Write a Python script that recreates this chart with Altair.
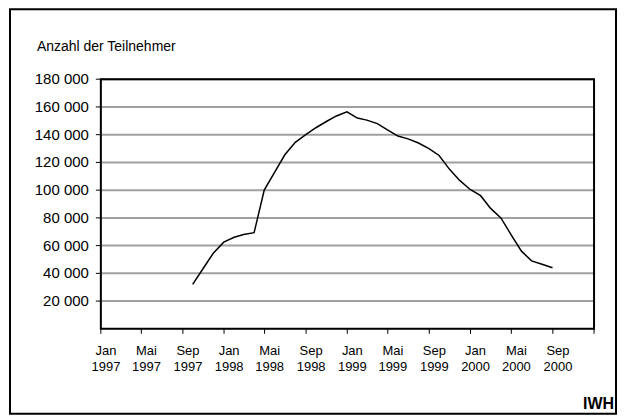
import altair as alt
import pandas as pd

# Monthly participant counts (end of month), Sep 1997 - Aug 2000
dates = pd.date_range("1997-09-30", "2000-08-31", freq="ME").strftime("%Y-%m-%d").tolist()
teilnehmer = [
    32000, 43500, 54500, 62500, 66000, 68000, 69300, 100000, 113000, 125500,
    134500, 140000, 145000, 149500, 153500, 156500, 152000, 150500, 148000, 143500,
    139000, 137000, 134000, 130000, 125000, 115000, 107000, 100500, 96000, 87000,
    80000, 68000, 56000, 49000, 46500, 44000,
]

# Axis ticks / labels
tick_dates = pd.date_range("1997-01-01", "2001-01-01", freq="4MS").strftime("%Y-%m-%d").tolist()
label_dates = tick_dates[:-1]
month_names = {1: "Jan", 5: "Mai", 9: "Sep"}
y_ticks = [0, 20000, 40000, 60000, 80000, 100000, 120000, 140000, 160000, 180000]

y_title = "Anzahl der Teilnehmer"
source_label = "IWH"

FONT = "Liberation Sans"
W, H = 494, 250

df = pd.DataFrame({"datum": dates, "wert": teilnehmer})
labels_df = pd.DataFrame({
    "datum": [pd.Timestamp(d) + pd.Timedelta(days=15) for d in label_dates],
    "monat": [month_names[pd.Timestamp(d).month] for d in label_dates],
    "jahr": [str(pd.Timestamp(d).year) for d in label_dates],
})
ticks_df = pd.DataFrame({"datum": tick_dates})
grid_df = pd.DataFrame({"y": y_ticks[1:]})
ylab_df = pd.DataFrame({"y": y_ticks[1:], "txt": [f"{v:,}".replace(",", " ") for v in y_ticks[1:]]})

xscale = alt.Scale(domain=["1997-01-01", "2001-01-01"])
yscale = alt.Scale(domain=[0, 180000])

grid = alt.Chart(grid_df).mark_rule(color="#a0a0a0", strokeWidth=2).encode(
    y=alt.Y("y:Q", scale=yscale, axis=None),
    x=alt.value(0), x2=alt.value(W),
)

ytick = alt.Chart(grid_df).mark_rule(color="black", strokeWidth=1).encode(
    y=alt.Y("y:Q", scale=yscale, axis=None),
    x=alt.value(-5), x2=alt.value(0),
)

ylabels = alt.Chart(ylab_df).mark_text(align="right", baseline="middle", font=FONT, fontSize=15, dx=-12).encode(
    y=alt.Y("y:Q", scale=yscale, axis=None),
    x=alt.value(0),
    text="txt:N",
)

xtick = alt.Chart(ticks_df).mark_rule(color="black", strokeWidth=1).encode(
    x=alt.X("datum:T", scale=xscale, axis=None),
    y=alt.value(H), y2=alt.value(H + 5),
)

xlab1 = alt.Chart(labels_df).mark_text(align="center", baseline="top", font=FONT, fontSize=13).encode(
    x=alt.X("datum:T", scale=xscale, axis=None),
    y=alt.value(H + 16),
    text="monat:N",
)
xlab2 = alt.Chart(labels_df).mark_text(align="center", baseline="top", font=FONT, fontSize=13).encode(
    x=alt.X("datum:T", scale=xscale, axis=None),
    y=alt.value(H + 32),
    text="jahr:N",
)

line = alt.Chart(df).mark_line(color="black", strokeWidth=1.5).encode(
    x=alt.X("datum:T", scale=xscale, axis=None),
    y=alt.Y("wert:Q", scale=yscale, axis=None),
)

frame = alt.Chart(pd.DataFrame({"a": [0]})).mark_rect(fill=None, stroke="black", strokeWidth=2).encode(
    x=alt.value(0), x2=alt.value(W), y=alt.value(0), y2=alt.value(H),
)

outer = alt.Chart(pd.DataFrame({"a": [0]})).mark_rect(fill=None, stroke="black", strokeWidth=2).encode(
    x=alt.value(-91), x2=alt.value(W + 22), y=alt.value(-70), y2=alt.value(H + 85),
)

title = alt.Chart(pd.DataFrame({"t": [y_title]})).mark_text(align="left", baseline="middle", font=FONT, fontSize=14).encode(
    x=alt.value(-64), y=alt.value(-32), text="t:N",
)

src = alt.Chart(pd.DataFrame({"t": [source_label]})).mark_text(align="right", baseline="bottom", font=FONT, fontSize=16, fontWeight="bold").encode(
    x=alt.value(W + 20), y=alt.value(H + 83), text="t:N",
)

chart = alt.layer(grid, frame, ytick, ylabels, xtick, xlab1, xlab2, line, outer, title, src).properties(
    width=W, height=H,
    padding={"left": 93, "top": 71, "right": 24, "bottom": 87},
    autosize=alt.AutoSizeParams(type="none"),
).configure_view(stroke=None).configure(background="white")

chart.save("out.html", embed_options={"renderer": "svg", "actions": False})
